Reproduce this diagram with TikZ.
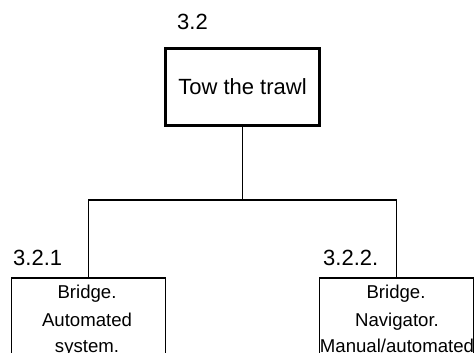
\documentclass[tikz,border=0pt]{standalone}
\usepackage{fontspec}
\setmainfont{Liberation Sans}
\begin{document}
\begin{tikzpicture}[x=1pt,y=-1pt,
  conn/.style={line width=1.3pt},
  bigbox/.style={draw, line width=3pt, minimum width=154pt, minimum height=77pt, inner sep=0pt, font=\fontsize{22}{26}\selectfont},
  subbox/.style={draw, line width=1.3pt, minimum width=154pt, minimum height=140pt, inner sep=0pt, anchor=north},
  numlbl/.style={anchor=base west, inner sep=0pt, font=\fontsize{22}{26}\selectfont},
  boxtxt/.style={anchor=base, inner sep=0pt, font=\fontsize{18.6}{22}\selectfont}]
\clip (0,0) rectangle (474,353);
\fill[white] (0,0) rectangle (474,353);
\node[bigbox] (top) at (242.5,87) {Tow the trawl};
\node[numlbl] (ltop) at (177,30) {3.2};
\node[subbox] (b1) at (88.5,277.3) {};
\node[subbox] (b2) at (396.5,277.3) {};
\node[numlbl] (l1) at (13,265) {3.2.1};
\node[numlbl] (l2) at (323,265) {3.2.2.};
\coordinate (j) at (242.5,200);
\draw[conn] (top.south) -- (j);
\draw[conn] (j) -| (b1.north);
\draw[conn] (j) -| (b2.north);
\node[boxtxt] (t11) at (87,298) {Bridge.};
\node[boxtxt] (t12) at (87,326) {Automated};
\node[boxtxt] (t13) at (87,352) {system.};
\node[boxtxt] (t21) at (396,298) {Bridge.};
\node[boxtxt] (t22) at (397,326) {Navigator.};
\node[boxtxt] (t23) at (397,352) {Manual/automated};
\end{tikzpicture}
\end{document}
